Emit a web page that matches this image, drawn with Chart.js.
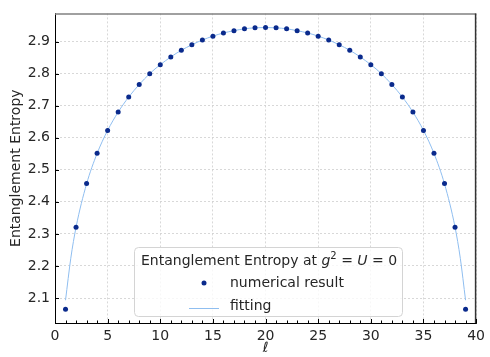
<!DOCTYPE html>
<html>
<head>
<meta charset="utf-8">
<script src="https://cdn.jsdelivr.net/npm/chart.js@4.4.1/dist/chart.umd.min.js"></script>
<style>
  html, body { margin: 0; padding: 0; background: #fff; }
  #wrap { width: 490px; height: 357px; position: relative; }
</style>
</head>
<body>
<div id="wrap"><canvas id="entropyChart"></canvas></div>
<script>
// numerical result (points)
const ellPoints = [1, 2, 3, 4, 5, 6, 7, 8, 9, 10, 11, 12, 13, 14, 15, 16, 17, 18, 19, 20,
    21, 22, 23, 24, 25, 26, 27, 28, 29, 30, 31, 32, 33, 34, 35, 36, 37, 38, 39];
const entropyPoints = [2.065, 2.321, 2.457, 2.552, 2.623, 2.680, 2.727, 2.766, 2.800, 2.828,
    2.852, 2.873, 2.890, 2.905, 2.917, 2.927, 2.934, 2.940, 2.943, 2.944,
    2.943, 2.940, 2.934, 2.927, 2.917, 2.905, 2.890, 2.873, 2.852, 2.828,
    2.800, 2.766, 2.727, 2.680, 2.623, 2.552, 2.457, 2.321, 2.065];

// fitting curve
const ellFit = [1, 1.5, 2, 3, 4, 5, 6, 7, 8, 9, 10, 11, 12, 13, 14, 15, 16, 17, 18, 19, 20,
    21, 22, 23, 24, 25, 26, 27, 28, 29, 30, 31, 32, 33, 34, 35, 36, 37, 38, 38.5, 39];
const entropyFit = [2.093, 2.224, 2.321, 2.456, 2.551, 2.623, 2.680, 2.727, 2.766, 2.800, 2.828,
    2.852, 2.873, 2.890, 2.905, 2.917, 2.927, 2.934, 2.940, 2.943, 2.944,
    2.943, 2.940, 2.934, 2.927, 2.917, 2.905, 2.890, 2.873, 2.852, 2.828,
    2.800, 2.766, 2.727, 2.680, 2.623, 2.551, 2.456, 2.321, 2.224, 2.093];

// tick labels
const xTicks = [0, 5, 10, 15, 20, 25, 30, 35, 40];
const yTicks = [2.1, 2.2, 2.3, 2.4, 2.5, 2.6, 2.7, 2.8, 2.9];

const textColor = '#262626';
const pointColor = '#0a2a8c';
const fitColor = '#8fbef0';
const gridColor = '#cfcfcf';

// matplotlib-like frame, inward ticks and in-axes legend
const framePlugin = {
    id: 'frame',
    afterDraw(chart) {
        const ctx = chart.ctx;
        const a = chart.chartArea;
        const xs = chart.scales.x;
        const ys = chart.scales.y;
        ctx.save();

        // top / right spines
        ctx.lineWidth = 1.5;
        ctx.strokeStyle = '#808080';
        ctx.beginPath();
        ctx.moveTo(a.left, a.top + 0.5);
        ctx.lineTo(a.right, a.top + 0.5);
        ctx.stroke();
        ctx.strokeStyle = '#333';
        ctx.beginPath();
        ctx.moveTo(a.right - 0.5, a.top);
        ctx.lineTo(a.right - 0.5, a.bottom);
        ctx.stroke();

        // inward ticks on bottom axis (major every 5, minor every 1)
        ctx.strokeStyle = '#000';
        ctx.lineWidth = 1;
        for (let i = 0; i <= 40; i++) {
            const px = Math.round(xs.getPixelForValue(i)) + 0.5;
            const len = i % 5 === 0 ? 4 : 2.5;
            ctx.beginPath();
            ctx.moveTo(px, a.bottom);
            ctx.lineTo(px, a.bottom - len);
            ctx.stroke();
        }
        // inward ticks on left axis
        yTicks.forEach(v => {
            const py = Math.round(ys.getPixelForValue(v)) + 0.5;
            ctx.beginPath();
            ctx.moveTo(a.left, py);
            ctx.lineTo(a.left + 4, py);
            ctx.stroke();
        });

        // legend box
        const bx = 134, by = 247, bw = 268, bh = 69;
        ctx.beginPath();
        ctx.roundRect(bx + 0.5, by + 0.5, bw, bh, 4);
        ctx.fillStyle = 'rgba(255,255,255,0.8)';
        ctx.fill();
        ctx.strokeStyle = '#d4d4d4';
        ctx.lineWidth = 1;
        ctx.stroke();

        ctx.fillStyle = textColor;
        ctx.textBaseline = 'middle';
        ctx.textAlign = 'left';
        const reg = '14px "DejaVu Sans"';
        const ital = 'italic 14px "DejaVu Sans"';
        const small = '10px "DejaVu Sans"';
        const parts = [
            ['Entanglement Entropy at ', reg, 0],
            ['g', ital, 0],
            ['2', small, -5],
            [' = ', reg, 0],
            ['U', ital, 0],
            [' = 0', reg, 0]
        ];
        let tx = 141;
        const ty = 261;
        parts.forEach(([t, f, dy]) => {
            ctx.font = f;
            ctx.fillText(t, tx, ty + dy);
            tx += ctx.measureText(t).width;
        });

        ctx.font = reg;
        ctx.fillStyle = pointColor;
        ctx.beginPath();
        ctx.arc(204, 283, 2.5, 0, Math.PI * 2);
        ctx.fill();
        ctx.fillStyle = textColor;
        ctx.fillText('numerical result', 230, 283);

        ctx.strokeStyle = fitColor;
        ctx.lineWidth = 1;
        ctx.beginPath();
        ctx.moveTo(189, 308.5);
        ctx.lineTo(219, 308.5);
        ctx.stroke();
        ctx.fillText('fitting', 230, 306);

        ctx.restore();
    }
};

new Chart(document.getElementById('entropyChart').getContext('2d'), {
    type: 'scatter',
    data: {
        datasets: [
            {
                label: 'numerical result',
                data: ellPoints.map((l, i) => ({ x: l, y: entropyPoints[i] })),
                backgroundColor: pointColor,
                borderColor: pointColor,
                pointRadius: 2.5,
                pointBorderWidth: 0,
                showLine: false
            },
            {
                label: 'fitting',
                data: ellFit.map((l, i) => ({ x: l, y: entropyFit[i] })),
                borderColor: fitColor,
                borderWidth: 1,
                pointRadius: 0,
                showLine: true,
                cubicInterpolationMode: 'monotone'
            }
        ]
    },
    options: {
        responsive: true,
        maintainAspectRatio: false,
        animation: false,
        layout: {
            padding: { top: 6, right: 10, left: 0, bottom: 0 }
        },
        plugins: {
            legend: { display: false },
            tooltip: { enabled: false }
        },
        scales: {
            x: {
                type: 'linear',
                min: 0,
                max: 40,
                afterBuildTicks: scale => { scale.ticks = xTicks.map(v => ({ value: v })); },
                afterFit: scale => { scale.height = 34; },
                ticks: {
                    color: textColor,
                    font: { family: 'DejaVu Sans', size: 14 },
                    padding: 5,
                    maxRotation: 0,
                    autoSkip: false
                },
                grid: { color: gridColor, lineWidth: 0.8, drawTicks: false },
                border: { display: true, color: '#000', width: 1, dash: [2, 2] },
                title: {
                    display: true,
                    text: 'ℓ',
                    color: textColor,
                    font: { family: 'DejaVu Sans', size: 14, style: 'italic' },
                    padding: { top: 0, bottom: 0 }
                }
            },
            y: {
                type: 'linear',
                min: 2.022,
                max: 2.988,
                afterBuildTicks: scale => { scale.ticks = yTicks.map(v => ({ value: v })); },
                afterFit: scale => { scale.width = 55; },
                ticks: {
                    color: textColor,
                    font: { family: 'DejaVu Sans', size: 14 },
                    padding: 5,
                    callback: v => v.toFixed(1)
                },
                grid: { color: gridColor, lineWidth: 0.8, drawTicks: false },
                border: { display: true, color: '#000', width: 1, dash: [2, 2] },
                title: {
                    display: true,
                    text: 'Entanglement Entropy',
                    color: textColor,
                    font: { family: 'DejaVu Sans', size: 14 },
                    padding: { top: 8, bottom: 0 }
                }
            }
        }
    },
    plugins: [framePlugin]
});
</script>
</body>
</html>
